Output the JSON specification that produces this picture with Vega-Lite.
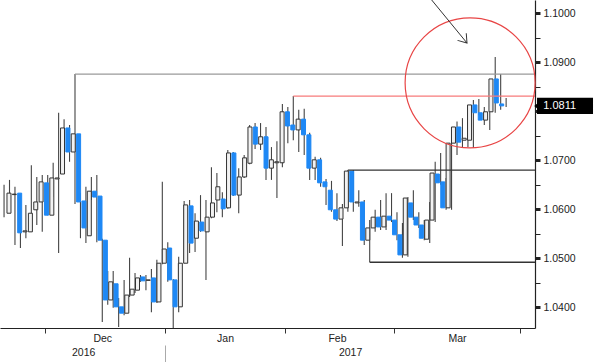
{
  "$schema": "https://vega.github.io/schema/vega-lite/v6.json",
  "width": 535,
  "height": 328,
  "autosize": {"type": "none"},
  "padding": {"left": 0, "top": 0, "right": 65, "bottom": 34},
  "background": "white",
  "config": {"view": {"stroke": null}, "font": "Liberation Sans", "axis": {"grid": false}},
  "datasets": {
    "candles": [
      {"i":0,"open":1.0592,"high":1.0650,"low":1.0584,"close":1.0633},
      {"i":1,"open":1.0630,"high":1.0660,"low":1.0607,"close":1.0631},
      {"i":2,"open":1.0633,"high":1.0646,"low":1.0527,"close":1.0552},
      {"i":3,"open":1.0554,"high":1.0588,"low":1.0521,"close":1.0556},
      {"i":4,"open":1.0554,"high":1.0609,"low":1.0541,"close":1.0592},
      {"i":5,"open":1.0599,"high":1.0690,"low":1.0568,"close":1.0615},
      {"i":6,"open":1.0615,"high":1.0666,"low":1.0568,"close":1.0656},
      {"i":7,"open":1.0654,"high":1.0670,"low":1.0554,"close":1.0588},
      {"i":8,"open":1.0588,"high":1.0670,"low":1.0588,"close":1.0664},
      {"i":9,"open":1.0662,"high":1.0695,"low":1.0625,"close":1.0664},
      {"i":10,"open":1.0672,"high":1.0797,"low":1.0511,"close":1.0766},
      {"i":11,"open":1.0766,"high":1.0784,"low":1.0701,"close":1.0717},
      {"i":12,"open":1.0717,"high":1.0772,"low":1.0697,"close":1.0754},
      {"i":13,"open":1.0754,"high":1.0876,"low":1.0611,"close":1.0615},
      {"i":14,"open":1.0617,"high":1.0633,"low":1.0541,"close":1.0562},
      {"i":15,"open":1.0546,"high":1.0646,"low":1.0531,"close":1.0637},
      {"i":16,"open":1.0637,"high":1.0666,"low":1.0619,"close":1.0625},
      {"i":17,"open":1.0627,"high":1.0670,"low":1.0533,"close":1.0537},
      {"i":18,"open":1.0537,"high":1.0540,"low":1.0370,"close":1.0415},
      {"i":19,"open":1.0415,"high":1.0474,"low":1.0405,"close":1.0452},
      {"i":20,"open":1.0448,"high":1.0474,"low":1.0399,"close":1.0401},
      {"i":21,"open":1.0401,"high":1.0419,"low":1.0360,"close":1.0388},
      {"i":22,"open":1.0388,"high":1.0456,"low":1.0384,"close":1.0425},
      {"i":23,"open":1.0425,"high":1.0501,"low":1.0421,"close":1.0437},
      {"i":24,"open":1.0435,"high":1.0470,"low":1.0429,"close":1.0460},
      {"i":25,"open":1.0462,"high":1.0466,"low":1.0452,"close":1.0454},
      {"i":26,"open":1.0455,"high":1.0466,"low":1.0435,"close":1.0456},
      {"i":27,"open":1.0460,"high":1.0478,"low":1.0390,"close":1.0411},
      {"i":28,"open":1.0411,"high":1.0497,"low":1.0409,"close":1.0490},
      {"i":29,"open":1.0490,"high":1.0656,"low":1.0488,"close":1.0519},
      {"i":30,"open":1.0521,"high":1.0533,"low":1.0452,"close":1.0456},
      {"i":31,"open":1.0456,"high":1.0458,"low":1.0358,"close":1.0401},
      {"i":32,"open":1.0401,"high":1.0503,"low":1.0390,"close":1.0490},
      {"i":33,"open":1.0490,"high":1.0617,"low":1.0490,"close":1.0609},
      {"i":34,"open":1.0607,"high":1.0619,"low":1.0511,"close":1.0531},
      {"i":35,"open":1.0541,"high":1.0592,"low":1.0513,"close":1.0576},
      {"i":36,"open":1.0574,"high":1.0629,"low":1.0554,"close":1.0556},
      {"i":37,"open":1.0554,"high":1.0619,"low":1.0456,"close":1.0584},
      {"i":38,"open":1.0584,"high":1.0686,"low":1.0582,"close":1.0613},
      {"i":39,"open":1.0619,"high":1.0674,"low":1.0594,"close":1.0646},
      {"i":40,"open":1.0621,"high":1.0635,"low":1.0584,"close":1.0601},
      {"i":41,"open":1.0603,"high":1.0721,"low":1.0601,"close":1.0715},
      {"i":42,"open":1.0715,"high":1.0717,"low":1.0627,"close":1.0629},
      {"i":43,"open":1.0629,"high":1.0684,"low":1.0592,"close":1.0666},
      {"i":44,"open":1.0666,"high":1.0711,"low":1.0664,"close":1.0705},
      {"i":45,"open":1.0694,"high":1.0772,"low":1.0692,"close":1.0768},
      {"i":46,"open":1.0768,"high":1.0776,"low":1.0723,"close":1.0733},
      {"i":47,"open":1.0733,"high":1.0776,"low":1.0721,"close":1.0748},
      {"i":48,"open":1.0748,"high":1.0768,"low":1.0660,"close":1.0684},
      {"i":49,"open":1.0684,"high":1.0727,"low":1.0660,"close":1.0701},
      {"i":50,"open":1.0695,"high":1.0739,"low":1.0623,"close":1.0697},
      {"i":51,"open":1.0695,"high":1.0815,"low":1.0686,"close":1.0799},
      {"i":52,"open":1.0799,"high":1.0809,"low":1.0735,"close":1.0770},
      {"i":53,"open":1.0772,"high":1.0831,"low":1.0741,"close":1.0762},
      {"i":54,"open":1.0762,"high":1.0803,"low":1.0717,"close":1.0784},
      {"i":55,"open":1.0784,"high":1.0805,"low":1.0711,"close":1.0752},
      {"i":56,"open":1.0752,"high":1.0756,"low":1.0660,"close":1.0684},
      {"i":57,"open":1.0684,"high":1.0707,"low":1.0660,"close":1.0701},
      {"i":58,"open":1.0701,"high":1.0705,"low":1.0646,"close":1.0654},
      {"i":59,"open":1.0656,"high":1.0662,"low":1.0609,"close":1.0646},
      {"i":60,"open":1.0639,"high":1.0658,"low":1.0595,"close":1.0599},
      {"i":61,"open":1.0599,"high":1.0633,"low":1.0576,"close":1.0580},
      {"i":62,"open":1.0580,"high":1.0611,"low":1.0525,"close":1.0603},
      {"i":63,"open":1.0603,"high":1.0680,"low":1.0595,"close":1.0678},
      {"i":64,"open":1.0678,"high":1.0680,"low":1.0595,"close":1.0615},
      {"i":65,"open":1.0613,"high":1.0639,"low":1.0605,"close":1.0615},
      {"i":66,"open":1.0615,"high":1.0619,"low":1.0527,"close":1.0537},
      {"i":67,"open":1.0537,"high":1.0578,"low":1.0492,"close":1.0562},
      {"i":68,"open":1.0562,"high":1.0599,"low":1.0554,"close":1.0584},
      {"i":69,"open":1.0584,"high":1.0619,"low":1.0558,"close":1.0564},
      {"i":70,"open":1.0564,"high":1.0633,"low":1.0558,"close":1.0586},
      {"i":71,"open":1.0586,"high":1.0633,"low":1.0574,"close":1.0578},
      {"i":72,"open":1.0578,"high":1.0594,"low":1.0537,"close":1.0548},
      {"i":73,"open":1.0548,"high":1.0572,"low":1.0501,"close":1.0507},
      {"i":74,"open":1.0507,"high":1.0625,"low":1.0503,"close":1.0623},
      {"i":75,"open":1.0613,"high":1.0639,"low":1.0578,"close":1.0584},
      {"i":76,"open":1.0584,"high":1.0594,"low":1.0562,"close":1.0568},
      {"i":77,"open":1.0568,"high":1.0578,"low":1.0537,"close":1.0541},
      {"i":78,"open":1.0539,"high":1.0615,"low":1.0531,"close":1.0578},
      {"i":79,"open":1.0578,"high":1.0697,"low":1.0574,"close":1.0674},
      {"i":80,"open":1.0672,"high":1.0715,"low":1.0650,"close":1.0654},
      {"i":81,"open":1.0656,"high":1.0664,"low":1.0599,"close":1.0603},
      {"i":82,"open":1.0603,"high":1.0741,"low":1.0599,"close":1.0735},
      {"i":83,"open":1.0735,"high":1.0779,"low":1.0711,"close":1.0768},
      {"i":84,"open":1.0768,"high":1.0786,"low":1.0727,"close":1.0737},
      {"i":85,"open":1.0741,"high":1.0778,"low":1.0727,"close":1.0745},
      {"i":86,"open":1.0741,"high":1.0823,"low":1.0725,"close":1.0813},
      {"i":87,"open":1.0813,"high":1.0825,"low":1.0792,"close":1.0797},
      {"i":88,"open":1.0797,"high":1.0809,"low":1.0772,"close":1.0782},
      {"i":89,"open":1.0782,"high":1.0817,"low":1.0762,"close":1.0799},
      {"i":90,"open":1.0799,"high":1.0911,"low":1.0797,"close":1.0866},
      {"i":91,"open":1.0866,"high":1.0876,"low":1.0803,"close":1.0817},
      {"i":92,"open":1.0815,"high":1.0827,"low":1.0809,"close":1.0811}
    ],
    "levels": [
      {"level": "Dec high", "from": 13, "price": 1.0876},
      {"level": "Feb high", "from": 53, "price": 1.0831},
      {"level": "Range high", "from": 63, "price": 1.0680},
      {"level": "Range low", "from": 67, "price": 1.0492}
    ],
    "arrow": [
      {"i1": 78.36, "p1": 1.10271, "i2": 84.83, "p2": 1.09393}
    ],
    "focus": [
      {"i": 85.4, "price": 1.0858}
    ],
    "last": [
      {"label": "1.0811", "price": 1.0811}
    ]
  },
  "resolve": {"scale": {"x": "independent", "y": "independent"}},
  "layer": [
    {
      "data": {"name": "candles"},
      "mark": {"type": "rule", "color": "#444444", "strokeWidth": 1.1},
      "encoding": {
        "x": {"field": "i", "type": "quantitative",
          "scale": {"domain": [-0.742, 97.29], "nice": false, "zero": false},
          "axis": {
            "orient": "bottom", "title": null,
            "values": [7.5, 18, 29.5, 40.5, 51.5, 61, 71.5, 83, 94.5],
            "labelExpr": "datum.value == 18 ? 'Dec' : datum.value == 40.5 ? 'Jan' : datum.value == 61 ? 'Feb' : datum.value == 83 ? 'Mar' : ''",
            "tickOpacity": {"condition": {"test": "indexof([7.5, 29.5, 51.5, 71.5, 94.5], datum.value) >= 0", "value": 1}, "value": 0},
            "tickSize": 5, "tickColor": "#333333", "tickWidth": 1,
            "domainColor": "#222222", "domainWidth": 1.2,
            "labelPadding": 0, "labelFont": "Liberation Sans", "labelFontSize": 10.5, "labelColor": "#222222",
            "labelOverlap": false, "labelFlush": false
          }
        },
        "y": {"field": "low", "type": "quantitative",
          "scale": {"domain": [1.03578, 1.10271], "nice": false, "zero": false},
          "axis": {
            "orient": "right", "title": null,
            "values": [1.04, 1.045, 1.05, 1.055, 1.06, 1.065, 1.07, 1.075, 1.08, 1.085, 1.09, 1.095, 1.1],
            "labelExpr": "(round(datum.value*1000) % 10 == 0 && round(datum.value*1000) != 1080) ? format(datum.value, '.4f') : ''",
            "tickSize": 5, "tickColor": "#222222",
            "tickWidth": {"condition": {"test": "round(datum.value*1000) % 10 == 0", "value": 3}, "value": 1},
            "domainColor": "#222222", "domainWidth": 1.2,
            "labelPadding": 3, "labelFont": "Liberation Sans", "labelFontSize": 10.5, "labelColor": "#222222",
            "labelOverlap": false, "labelFlush": false
          }
        },
        "y2": {"field": "high"}
      }
    },
    {
      "data": {"name": "candles"},
      "mark": {"type": "bar", "width": 4, "strokeWidth": 1},
      "encoding": {
        "x": {"field": "i", "type": "quantitative",
          "scale": {"domain": [-0.742, 97.29], "nice": false, "zero": false}, "axis": null},
        "y": {"field": "open", "type": "quantitative",
          "scale": {"domain": [1.03578, 1.10271], "nice": false, "zero": false}, "axis": null},
        "y2": {"field": "close"},
        "fill": {"condition": {"test": "datum.close >= datum.open", "value": "#f2f2f2"}, "value": "#1E88F5"},
        "stroke": {"condition": {"test": "datum.close >= datum.open", "value": "#333333"}, "value": "#1E88F5"}
      }
    },
    {
      "data": {"name": "levels"},
      "mark": {"type": "rule", "strokeWidth": 1.3},
      "encoding": {
        "x": {"field": "from", "type": "quantitative",
          "scale": {"domain": [-0.742, 97.29], "nice": false, "zero": false},
          "axis": {
            "orient": "bottom", "title": null, "offset": 17, "domain": false,
            "values": [14.5, 29.5, 63.4],
            "labelExpr": "datum.value == 14.5 ? '2016' : datum.value == 63.4 ? '2017' : ''",
            "tickOpacity": {"condition": {"test": "datum.value == 29.5", "value": 1}, "value": 0},
            "tickSize": 17, "tickColor": "#aaaaaa", "tickWidth": 1,
            "labelPadding": -15, "labelFont": "Liberation Sans", "labelFontSize": 10.5, "labelColor": "#222222",
            "labelOverlap": false, "labelFlush": false
          }
        },
        "x2": {"datum": 97.29},
        "y": {"field": "price", "type": "quantitative",
          "scale": {"domain": [1.03578, 1.10271], "nice": false, "zero": false}, "axis": null},
        "color": {"field": "level", "type": "nominal",
          "scale": {"domain": ["Dec high", "Feb high", "Range high", "Range low"], "range": ["#9a9a9a", "#f77b7b", "#333333", "#333333"]},
          "legend": null}
      }
    },
    {
      "data": {"name": "focus"},
      "mark": {"type": "point", "shape": "circle", "size": 16900, "filled": false, "stroke": "#e84545", "strokeWidth": 1.2, "opacity": 1},
      "encoding": {
        "x": {"field": "i", "type": "quantitative",
          "scale": {"domain": [-0.742, 97.29], "nice": false, "zero": false}, "axis": null},
        "y": {"field": "price", "type": "quantitative",
          "scale": {"domain": [1.03578, 1.10271], "nice": false, "zero": false}, "axis": null}
      }
    },
    {
      "data": {"name": "arrow"},
      "mark": {"type": "rule", "color": "#333333", "strokeWidth": 1},
      "encoding": {
        "x": {"field": "i1", "type": "quantitative",
          "scale": {"domain": [-0.742, 97.29], "nice": false, "zero": false}, "axis": null},
        "x2": {"field": "i2"},
        "y": {"field": "p1", "type": "quantitative",
          "scale": {"domain": [1.03578, 1.10271], "nice": false, "zero": false}, "axis": null},
        "y2": {"field": "p2"}
      }
    },
    {
      "data": {"name": "arrow"},
      "mark": {"type": "point", "shape": "M-1,-0.7L0,0L-1,0.7", "size": 260, "filled": false, "stroke": "#333333", "strokeWidth": 1, "angle": 50.6, "opacity": 1},
      "encoding": {
        "x": {"field": "i2", "type": "quantitative",
          "scale": {"domain": [-0.742, 97.29], "nice": false, "zero": false}, "axis": null},
        "y": {"field": "p2", "type": "quantitative",
          "scale": {"domain": [1.03578, 1.10271], "nice": false, "zero": false}, "axis": null}
      }
    },
    {
      "data": {"name": "last"},
      "mark": {"type": "point", "shape": "M-1.1,0L-1,-0.08L-1,-0.29L1,-0.29L1,0.29L-1,0.29L-1,0.08Z", "size": 3136, "filled": true, "color": "#000000", "opacity": 1},
      "encoding": {
        "x": {"datum": 102.79, "type": "quantitative",
          "scale": {"domain": [-0.742, 97.29], "nice": false, "zero": false}, "axis": null},
        "y": {"field": "price", "type": "quantitative",
          "scale": {"domain": [1.03578, 1.10271], "nice": false, "zero": false}, "axis": null}
      }
    },
    {
      "data": {"name": "last"},
      "mark": {"type": "text", "align": "left", "baseline": "middle", "color": "#ffffff", "font": "Liberation Sans", "fontSize": 11},
      "encoding": {
        "x": {"datum": 98.8, "type": "quantitative",
          "scale": {"domain": [-0.742, 97.29], "nice": false, "zero": false}, "axis": null},
        "y": {"field": "price", "type": "quantitative",
          "scale": {"domain": [1.03578, 1.10271], "nice": false, "zero": false}, "axis": null},
        "text": {"field": "label"}
      }
    }
  ]
}
